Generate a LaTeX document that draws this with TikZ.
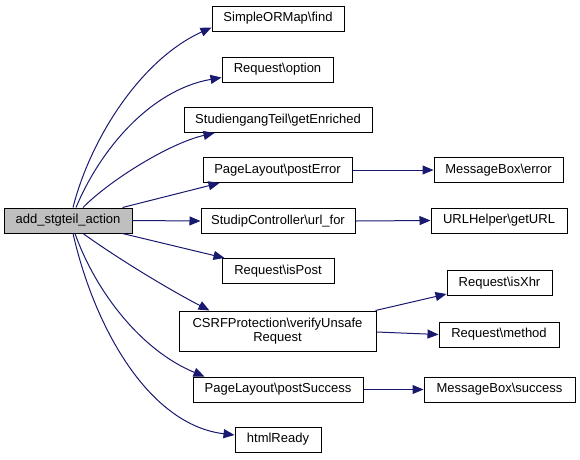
\documentclass[tikz,border=0pt]{standalone}
\usepackage{fontspec}
\setmainfont{Liberation Sans}
\usetikzlibrary{arrows.meta}
\definecolor{edgeblue}{HTML}{191970}
\definecolor{mainfill}{HTML}{BFBFBF}
\begin{document}
\begin{tikzpicture}[x=1pt,y=-1pt,
  box/.style={draw=black,line width=1pt,fill=white,inner sep=0pt,minimum height=25pt,
    font=\fontsize{13}{14}\selectfont,align=center},
  edge/.style={draw=edgeblue,line width=1pt,-{Triangle[length=11pt,width=9pt]}}]
\useasboundingbox (0,0) rectangle (580,459);
% nodes
\node[box,fill=mainfill,minimum width=128pt] (main) at (68,220.5) {add\_stgteil\_action};
\node[box,minimum width=132pt] (find) at (278,18.5) {SimpleORMap\textbackslash find};
\node[box,minimum width=111pt] (option) at (277.5,69.5) {Request\textbackslash option};
\node[box,minimum width=188pt] (enr) at (278,120) {StudiengangTeil\textbackslash getEnriched};
\node[box,minimum width=149pt] (perr) at (277.5,170) {PageLayout\textbackslash postError};
\node[box,minimum width=154pt] (url) at (278,221) {StudipController\textbackslash url\_for};
\node[box,minimum width=112pt] (ispost) at (278,271) {Request\textbackslash isPost};
\node[box,minimum width=197pt,minimum height=40pt] (csrf) at (277.5,331) {CSRFProtection\textbackslash verifyUnsafe\\Request};
\node[box,minimum width=170pt] (psucc) at (278,389.5) {PageLayout\textbackslash postSuccess};
\node[box,minimum width=86pt] (html) at (278,439.5) {htmlReady};
\node[box,minimum width=129pt] (merr) at (498.5,170) {MessageBox\textbackslash error};
\node[box,minimum width=136pt] (geturl) at (499,220.5) {URLHelper\textbackslash getURL};
\node[box,minimum width=105pt] (isxhr) at (499.5,283) {Request\textbackslash isXhr};
\node[box,minimum width=120pt] (method) at (499,334.5) {Request\textbackslash method};
\node[box,minimum width=151pt] (msucc) at (499.5,389.5) {MessageBox\textbackslash success};
% edges from main
\draw[edge] ([xshift=5pt]main.north) .. controls (90,140) and (140,60) .. ([yshift=-9pt]find.west);
\draw[edge] ([xshift=8pt]main.north) .. controls (100,150) and (150,90) .. ([yshift=-8pt]option.west);
\draw[edge] ([xshift=15pt]main.north) .. controls (110,180) and (170,143) .. ([xshift=31pt]enr.south west);
\draw[edge] ([xshift=-10pt]main.north east) -- ([xshift=17pt]perr.south west);
\draw[edge] (main.east) -- (url.west);
\draw[edge] ([xshift=-10pt]main.south east) -- ([xshift=3pt]ispost.north west);
\draw[edge] ([xshift=15pt]main.south) .. controls (120,260) and (170,290) .. ([xshift=31pt]csrf.north west);
\draw[edge] ([xshift=7pt]main.south) .. controls (95,290) and (140,350) .. ([xshift=12pt]psucc.north west);
\draw[edge] ([xshift=5pt]main.south) .. controls (95,330) and (150,425) .. ([yshift=4.5pt]html.west);
% second level edges
\draw[edge] (perr.east) -- (merr.west);
\draw[edge] (url.east) -- (geturl.west);
\draw[edge] ([xshift=-1pt]csrf.north east) -- ([yshift=2pt]isxhr.south west);
\draw[edge] ([yshift=-1pt]csrf.east) -- (method.west);
\draw[edge] (psucc.east) -- (msucc.west);
\end{tikzpicture}
\end{document}
